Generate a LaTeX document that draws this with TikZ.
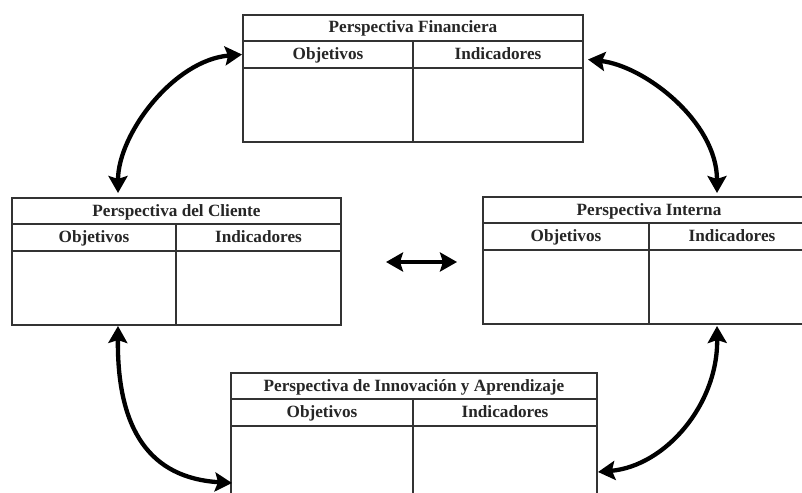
\documentclass[tikz,border=0pt]{standalone}
\usepackage{fontspec}
\setmainfont{Liberation Serif}
\usetikzlibrary{arrows.meta,calc}
\newcommand\mypanel[6]{%
  \node[titlecell, minimum width=#4, anchor=north west] (#1t) at (#2,#3) {#6};
  \node[headcell, minimum width=#5, anchor=north west] (#1o) at (#1t.south west) {Objetivos};
  \node[headcell, minimum width={#4-#5}, anchor=north west] (#1i) at (#1o.north east) {Indicadores};
  \node[bodycell, minimum width=#5, anchor=north west] (#1a) at (#1o.south west) {};
  \node[bodycell, minimum width={#4-#5}, anchor=north west] (#1b) at (#1i.south west) {};
}
\begin{document}
\begin{tikzpicture}[x=1pt,y=-1pt,
  cellbase/.style={draw=black!80, line width=1.2pt, rectangle, inner sep=0pt, outer sep=0pt,
    font=\fontsize{17.2}{20}\selectfont\bfseries, text=black!85, text height=12pt, text depth=2pt},
  titlecell/.style={cellbase, minimum height=26pt},
  headcell/.style={cellbase, minimum height=27pt},
  bodycell/.style={cellbase, minimum height=74pt},
  conn/.style={line width=4.3pt, black, {Stealth[length=17pt,width=19pt,inset=3pt]}-{Stealth[length=17pt,width=19pt,inset=3pt]}}]
\useasboundingbox (0,0) rectangle (802,492);
\clip (0,0) rectangle (802,492);
\fill[white] (0,0) rectangle (802,492);
\mypanel{fin}{243}{15}{340}{170}{Perspectiva Financiera}
\mypanel{cli}{12}{198}{329}{164}{Perspectiva del Cliente}
\mypanel{int}{483}{197}{332}{166}{Perspectiva Interna}
\mypanel{inn}{231}{373}{366}{182}{Perspectiva de Innovación y Aprendizaje}
% connector end points
\coordinate (tla) at ($(clit.north west)+(106,-5)$);
\coordinate (tlb) at ($(fino.west)+(-1,0)$);
\coordinate (tra) at ($(fini.east)+(5,5)$);
\coordinate (trb) at ($(intt.north west)+(234,-4)$);
\coordinate (bla) at ($(clia.south west)+(106,1)$);
\coordinate (blb) at ($(inna.north west)+(1,57)$);
\coordinate (bra) at ($(intb.south west)+(68,2)$);
\coordinate (brb) at ($(innb.north east)+(1,46)$);
\coordinate (ma) at (386,262);
\coordinate (mb) at (457,262);
\draw[conn] (tla) .. controls (118,134) and (174,60) .. (tlb);
\draw[conn] (tra) .. controls (645,66) and (717,122) .. (trb);
\draw[conn] (bla) .. controls (117,430) and (150,478) .. (blb);
\draw[conn] (bra) .. controls (718,405) and (665,466) .. (brb);
\draw[conn] (ma) -- (mb);
\end{tikzpicture}
\end{document}
